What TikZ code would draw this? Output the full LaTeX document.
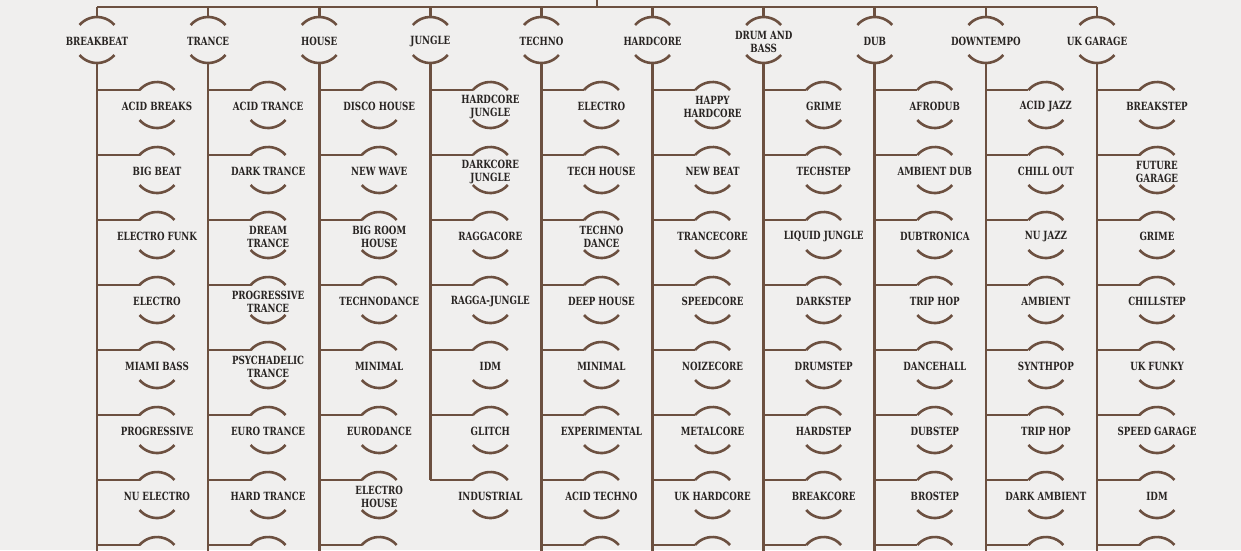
\documentclass[tikz,border=0pt]{standalone}
\usepackage{fontspec}
\setmainfont{DejaVu Serif}[FakeStretch=0.77,UprightFont={* Bold}]
\definecolor{bgc}{RGB}{240,239,238}
\definecolor{brn}{RGB}{108,80,64}
\definecolor{txt}{RGB}{40,36,34}
\newcommand\arcsof[1]{%
  \draw[link] ([shift={(139.3:23pt)},yshift=1.5pt]#1.center) arc[start angle=139.3,end angle=40.7,radius=23pt];
  \draw[link] ([shift={(-139.3:23pt)},yshift=1.5pt]#1.center) arc[start angle=-139.3,end angle=-40.7,radius=23pt];
}
\newcommand\genrecolumn[4]{%
  \pgfmathsetmacro\cx{97+111.11*#1}%
  \node[genre] (g#1) at (\cx,-41.5) {#2};
  \arcsof{g#1}
  \draw[link] (g#1 |- bar) -- ([yshift=24.5pt]g#1.center);
  \foreach \t [count=\k] in {#3} {
    \node[genre] (g#1c\k) at ({\cx+60},{-106.5-65*(\k-1)}) {\t};
    \arcsof{g#1c\k}
    \coordinate (g#1i\k) at ([shift={(139.3:23pt)},yshift=1.5pt]g#1c\k.center);
    \draw[link] (g#1 |- g#1i\k) -- (g#1i\k);
  }
  \draw[link] ([yshift=-21.5pt]g#1.center) -- (g#1 |- #4);
}
\begin{document}
\begin{tikzpicture}[x=1pt,y=1pt,
  genre/.style={inner sep=0pt, align=center, text=txt,
    font=\fontsize{11.3}{13}\selectfont},
  link/.style={draw=brn, line width=2.6pt}]
\useasboundingbox (0,0) rectangle (1241,-550);
\clip (0,0) rectangle (1241,-550);
\fill[bgc] (0,0) rectangle (1241,-550);
\coordinate (bar) at (0,-7);
\coordinate (root) at (597,5);
\coordinate (bottom) at (0,-575);
\genrecolumn{0}{BREAKBEAT}{ACID BREAKS, BIG BEAT, ELECTRO FUNK, ELECTRO, MIAMI BASS, PROGRESSIVE, NU ELECTRO, {}}{bottom}
\genrecolumn{1}{TRANCE}{ACID TRANCE, DARK TRANCE, {DREAM\\TRANCE}, {PROGRESSIVE\\TRANCE}, {PSYCHADELIC\\TRANCE}, EURO TRANCE, HARD TRANCE, {}}{bottom}
\genrecolumn{2}{HOUSE}{DISCO HOUSE, NEW WAVE, {BIG ROOM\\HOUSE}, TECHNODANCE, MINIMAL, EURODANCE, {ELECTRO\\HOUSE}, {}}{bottom}
\genrecolumn{3}{JUNGLE}{{HARDCORE\\JUNGLE}, {DARKCORE\\JUNGLE}, RAGGACORE, RAGGA-JUNGLE, IDM, GLITCH, INDUSTRIAL}{g3i7}
\genrecolumn{4}{TECHNO}{ELECTRO, TECH HOUSE, {TECHNO\\DANCE}, DEEP HOUSE, MINIMAL, EXPERIMENTAL, ACID TECHNO, {}}{bottom}
\genrecolumn{5}{HARDCORE}{{HAPPY\\HARDCORE}, NEW BEAT, TRANCECORE, SPEEDCORE, NOIZECORE, METALCORE, UK HARDCORE, {}}{bottom}
\genrecolumn{6}{DRUM AND\\BASS}{GRIME, TECHSTEP, LIQUID JUNGLE, DARKSTEP, DRUMSTEP, HARDSTEP, BREAKCORE, {}}{bottom}
\genrecolumn{7}{DUB}{AFRODUB, AMBIENT DUB, DUBTRONICA, TRIP HOP, DANCEHALL, DUBSTEP, BROSTEP, {}}{bottom}
\genrecolumn{8}{DOWNTEMPO}{ACID JAZZ, CHILL OUT, NU JAZZ, AMBIENT, SYNTHPOP, TRIP HOP, DARK AMBIENT, {}}{bottom}
\genrecolumn{9}{UK GARAGE}{BREAKSTEP, {FUTURE\\GARAGE}, GRIME, CHILLSTEP, UK FUNKY, SPEED GARAGE, IDM, {}}{bottom}
\draw[link] (g0 |- bar) -- (g9 |- bar);
\draw[link] (root) -- (root |- bar);
\end{tikzpicture}
\end{document}
